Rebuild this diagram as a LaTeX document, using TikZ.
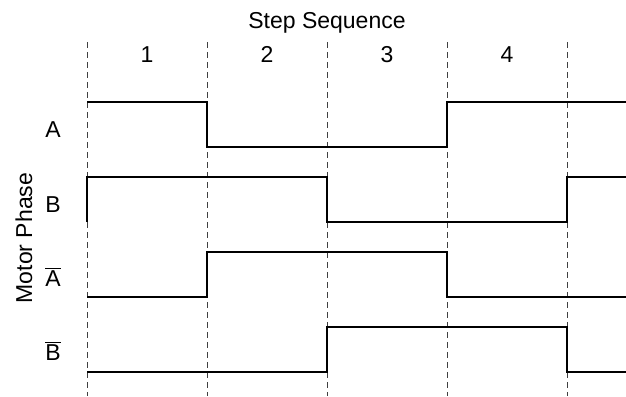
\documentclass[tikz,border=0pt]{standalone}
\usepackage{fontspec}
\setmainfont{Liberation Sans}
\usepackage{tikz}

\begin{document}
\begin{tikzpicture}[x=0.5pt,y=-0.5pt]
\tikzstyle{grid}=[dash pattern=on 3pt off 2pt,line width=0.5pt,black!75]
\tikzstyle{wave}=[line width=0.9pt,black,line join=miter]
\tikzstyle{lbl}=[inner sep=0pt,font=\fontsize{11.5}{13}\selectfont]
\useasboundingbox (0,0) rectangle (626,396);
% step boundaries
\foreach \i/\x in {0/87,1/207,2/327,3/447,4/567} {
	\coordinate (t\i) at (\x,42);
	\coordinate (b\i) at (\x,396);
	\draw[grid] (t\i) -- (b\i);
}
% step numbers and title
\node[lbl] (title) at (327,23) {Step Sequence};
\foreach \i/\x in {1/147,2/267,3/387,4/507}
	\node[lbl,anchor=base] (s\i) at (\x,62) {\i};
% phase labels
\node[lbl] (phA) at (53,130) {A};
\node[lbl] (phB) at (53,205) {B};
\node[lbl] (phAn) at (53,277) {$\overline{\hbox{A}}$};
\node[lbl] (phBn) at (53,351) {$\overline{\hbox{B}}$};
\node[lbl,rotate=90] (axis) at (24,238) {Motor Phase};
% waveforms
\draw[wave] (87,102) -- (207,102) -- (207,147) -- (447,147) -- (447,102) -- (626,102);
\draw[wave] (87,222) -- (87,177) -- (327,177) -- (327,222) -- (567,222) -- (567,177) -- (626,177);
\draw[wave] (87,297) -- (207,297) -- (207,252) -- (447,252) -- (447,297) -- (626,297);
\draw[wave] (87,372) -- (327,372) -- (327,327) -- (567,327) -- (567,372) -- (626,372);
\end{tikzpicture}
\end{document}
